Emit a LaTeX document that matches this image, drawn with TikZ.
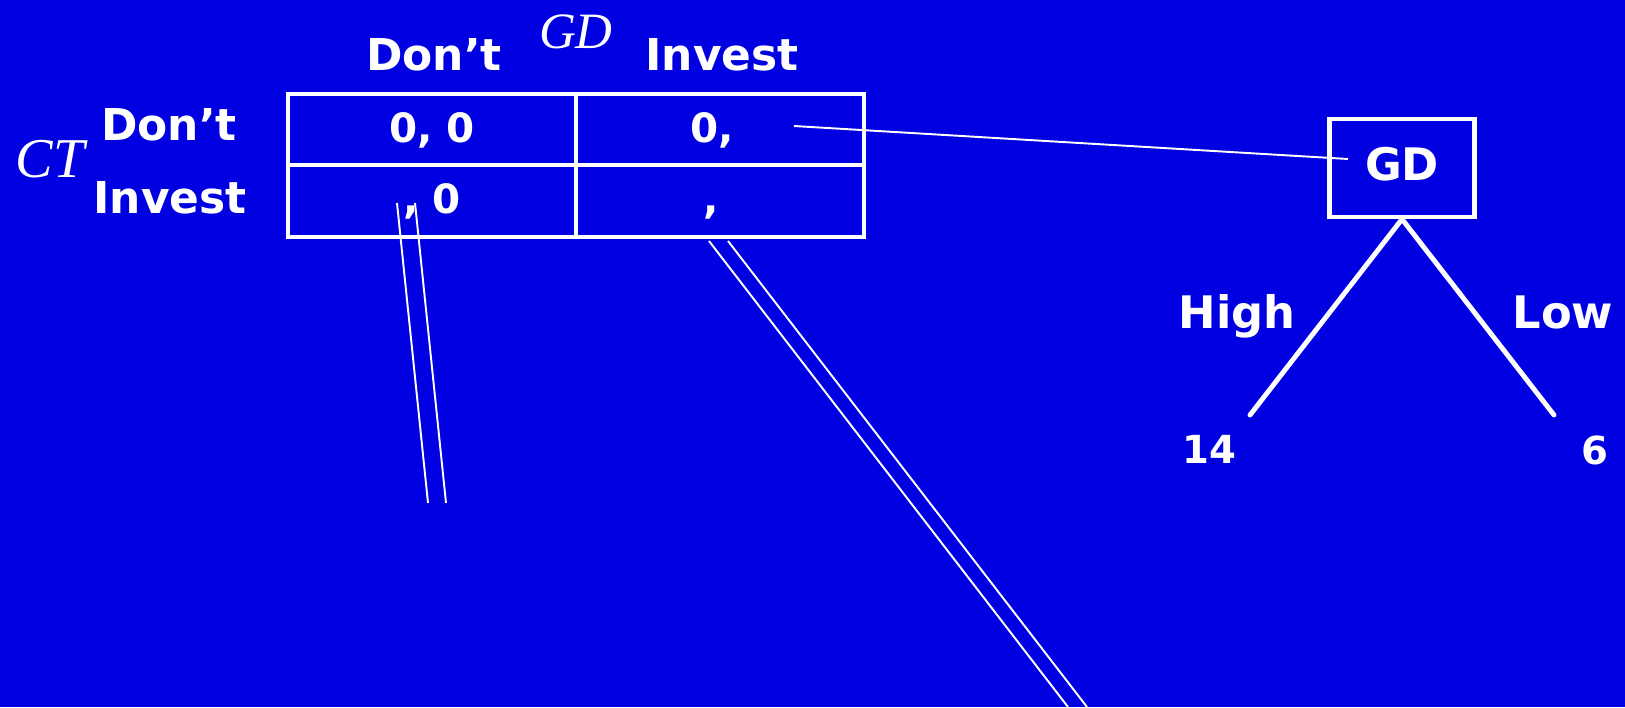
\documentclass[tikz,border=0pt]{standalone}
\usepackage{fontspec}
\setmainfont{DejaVu Sans}
\newfontfamily\playerfont{Liberation Serif}
\usetikzlibrary{positioning}
\definecolor{SlideBlue}{HTML}{0000E1}

\begin{document}
\begin{tikzpicture}[
    x=0.02cm, y=-0.02cm,
    cell/.style={minimum width=5.76cm, minimum height=1.43cm, draw=white, line width=2.4pt, inner sep=0pt},
    hdr/.style={text=white, font=\fontsize{25}{30}\selectfont\bfseries, anchor=base, inner sep=0pt},
    pay/.style={text=white, font=\fontsize{23}{28}\selectfont\bfseries, anchor=base, inner sep=0pt},
    plyr/.style={text=white, font=\fontsize{29}{34}\selectfont\playerfont\itshape, anchor=base, inner sep=0pt},
    gdbox/.style={draw=white, line width=2.4pt, minimum width=2.9cm, minimum height=1.96cm, text depth=5pt,
                  text=white, font=\fontsize{25.5}{30}\selectfont\bfseries},
    move/.style={text=white, font=\fontsize{25.5}{30}\selectfont\bfseries, anchor=base, inner sep=0pt},
    leaf/.style={text=white, font=\fontsize{22}{26}\selectfont\bfseries, anchor=base, inner sep=0pt},
    branch/.style={draw=white, line width=2.8pt, line cap=round},
    link/.style={draw=white, line width=1.1pt}
]
\useasboundingbox (0,0) rectangle (1625,707);
\fill[SlideBlue] (0,0) rectangle (1625,707);

% Payoff table
\node[cell] (c11) at (432,129.5) {};
\node[cell] (c12) at (720,129.5) {};
\node[cell] (c21) at (432,201) {};
\node[cell] (c22) at (720,201) {};

% Column and row labels
\node[hdr] (coldont) at (434,70) {Don’t};
\node[plyr] (gdname) at (576,48) {GD};
\node[hdr] (colinv) at (722,70) {Invest};
\node[hdr] (rowdont) at (169,140) {Don’t};
\node[hdr] (rowinv) at (170,213) {Invest};
\node[plyr, font=\fontsize{32}{36}\selectfont\playerfont\itshape] (ctname) at (50,177) {CT};

% Cell payoffs
\node[pay] (p11) at (432,142) {0, 0};
\node[pay, anchor=base west] (p12) at (690,142) {0,};
\node[pay, anchor=base west] (p21) at (403,213) {, 0};
\node[pay, anchor=base west] (p22) at (703,213) {,};

% GD's move
\node[gdbox] (gd) at (1402,168) {GD};
\coordinate (hileaf) at (1250,415);
\coordinate (loleaf) at (1554,415);
\draw[branch] (hileaf) -- (gd.south) -- (loleaf);
\node[move] (high) at (1237,328) {High};
\node[move] (low) at (1563,328) {Low};
\node[leaf] (v14) at (1209,463) {14};
\node[leaf] (v6) at (1595,464) {6};

% Connectors out of the table
\coordinate (fromp12) at (794,126);
\coordinate (gdin) at (1348,159);
\draw[link] (fromp12) -- (gdin);

\coordinate (dla) at (397,203);
\coordinate (dlb) at (428,503);
\coordinate (dlc) at (415,203);
\coordinate (dld) at (446,503);
\draw[link] (dla) -- (dlb);
\draw[link] (dlc) -- (dld);

\coordinate (dra) at (709,241);
\coordinate (drb) at (1068,707);
\coordinate (drc) at (728,241);
\coordinate (drd) at (1087,707);
\draw[link] (dra) -- (drb);
\draw[link] (drc) -- (drd);
\end{tikzpicture}
\end{document}
